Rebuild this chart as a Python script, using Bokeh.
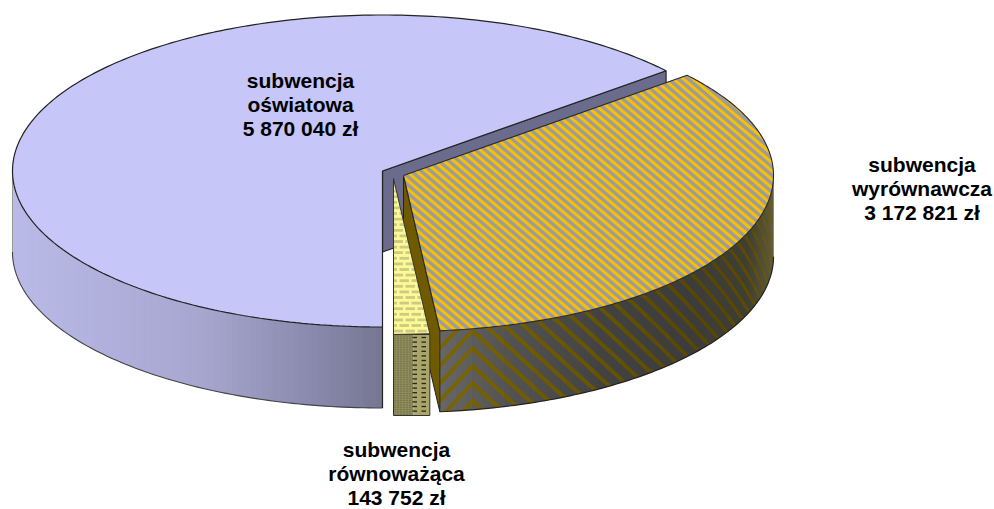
import numpy as np
from bokeh.plotting import figure
from bokeh.models import Range1d
from bokeh.core.properties import value
from bokeh.embed import file_html
from bokeh.resources import INLINE

categories = ["subwencja oświatowa", "subwencja wyrównawcza", "subwencja równoważąca"]
values = [5870040, 3172821, 143752]
label_lines = [["subwencja", "oświatowa", "5 870 040 zł"],
               ["subwencja", "wyrównawcza", "3 172 821 zł"],
               ["subwencja", "równoważąca", "143 752 zł"]]

W, H = 994, 509
RX, RY, DEPTH = 370.0, 156.0, 81.0
CENTERS = [(382.0, 170.5), (403.0, 175.0), (393.0, 178.0)]
LABEL_POS = [(300, 80), (921.5, 164), (396, 449)]
LINE_GAP = 24.0

p = figure(width=W, height=H, output_backend="svg", toolbar_location=None,
           x_range=Range1d(0, W), y_range=Range1d(H, 0),
           min_border=0, outline_line_color=None)
p.xaxis.visible = False
p.yaxis.visible = False
p.grid.visible = False
p.background_fill_color = "white"
p.border_fill_color = "white"

fr = np.array(values, float) / sum(values)
end0 = np.deg2rad(270.0)
start0 = end0 - fr[0] * 2 * np.pi
start1 = start0
end1 = start1 - fr[1] * 2 * np.pi
end2 = np.deg2rad(-90.0)


def rim(c, t, h=0.0):
    return c[0] + RX * np.cos(t), c[1] - RY * np.sin(t) + h


def wedge(c, a, b, n=240):
    t = np.linspace(a, b, n)
    x, y = rim(c, t)
    return np.r_[c[0], x], np.r_[c[1], y]


def clip_half(poly, nx, ny, d):
    out = []
    m = len(poly)
    for i in range(m):
        a, b = poly[i], poly[(i + 1) % m]
        fa = nx * a[0] + ny * a[1] - d
        fb = nx * b[0] + ny * b[1] - d
        if fa <= 0:
            out.append(a)
        if fa * fb < 0:
            s = fa / (fa - fb)
            out.append((a[0] + s * (b[0] - a[0]), a[1] + s * (b[1] - a[1])))
    return out


def interp_rgb(x, stops):
    xs = [s[0] for s in stops]
    return "#%02x%02x%02x" % tuple(int(round(np.interp(x, xs, [s[1][i] for s in stops]))) for i in range(3))


def fill(xs, ys, col):
    p.patches(xs, ys, fill_color=col, line_color=None)


def outline(x, y, col="#222222", lw=1.2):
    p.line(x, y, line_color=col, line_width=lw, line_join="round")


# ------------------------------------------------------ purple slice
c0 = CENTERS[0]
PURPLE_SIDE = [(12, (186, 186, 232)), (200, (166, 166, 207)), (300, (140, 140, 176)), (382, (117, 117, 145))]
ts = np.linspace(np.pi, end0, 91)
xs, ys, cols = [], [], []
for i in range(len(ts) - 1):
    a, b = ts[i], ts[min(i + 2, len(ts) - 1)]
    xa, ya = rim(c0, a)
    xb, yb = rim(c0, b)
    xs.append([xa, xb, xb, xa])
    ys.append([ya, yb, yb + DEPTH, ya + DEPTH])
    cols.append(interp_rgb(xa, PURPLE_SIDE))
fill(xs, ys, cols)
x_low, y_low = rim(c0, ts, DEPTH)
outline(x_low, y_low, "#444444", 1.1)
outline([c0[0] - RX] * 2, [c0[1], c0[1] + DEPTH], "#999999", 1.0)
outline([c0[0]] * 2, [c0[1] + RY, c0[1] + RY + DEPTH], "#222222", 1.2)

# cut face of the purple slice
fx, fy = rim(c0, start0)
p.patch([c0[0], fx, fx, c0[0], c0[0]], [c0[1], fy, fy + DEPTH, c0[1] + DEPTH, c0[1]],
        fill_color="#6b6b8e", line_color="#222222", line_width=1.2)

wx, wy = wedge(c0, start0, end0)
p.patch(np.r_[wx, wx[0]], np.r_[wy, wy[0]], fill_color="#c6c6f8", line_color="#222222", line_width=1.2)

# ------------------------------------------------------ yellow slice: side wall
c1 = CENTERS[1]
BASE_STOPS = [(439, (102, 102, 102)), (500, (84, 84, 84)), (600, (66, 66, 66)), (690, (60, 60, 60)), (745, (64, 62, 50)), (773, (95, 90, 58))]
STRIPE_STOPS = [(439, (122, 100, 0)), (600, (98, 82, 4)), (700, (84, 70, 4)), (745, (90, 76, 6)), (773, (108, 96, 28))]
ts = np.linspace(end1, 0.0, 101)
CHEV_T = -np.arccos(69.0 / RX)
PERIOD, STRIPE_W = 17.5, 5.5
xs, ys, cols = [], [], []
for i in range(len(ts) - 1):
    a, b = ts[i], ts[min(i + 2, len(ts) - 1)]
    xa, ya = rim(c1, a)
    xb, yb = rim(c1, b)
    xs.append([xa, xb, xb, xa])
    ys.append([ya, yb, yb + DEPTH, ya + DEPTH])
    cols.append(interp_rgb(xa, BASE_STOPS))
fill(xs, ys, cols)

sx, sy, scols = [], [], []
SEG = 6
for k in range(-30, 12):
    for i in range(0, len(ts) - 1, SEG):
        tt = ts[i:min(i + SEG + 2, len(ts))]
        if tt[0] < CHEV_T < tt[-1]:
            tt = np.sort(np.r_[tt, CHEV_T])
        u = np.abs(tt - CHEV_T) * RX
        hi = np.clip(k * PERIOD + u + 2.0 + STRIPE_W / 2, 0, DEPTH)
        lo = np.clip(k * PERIOD + u + 2.0 - STRIPE_W / 2, 0, DEPTH)
        if np.all(hi - lo <= 0):
            continue
        rx_, ry_ = rim(c1, tt)
        sx.append(np.r_[rx_, rx_[::-1]].tolist())
        sy.append(np.r_[ry_ + lo, (ry_ + hi)[::-1]].tolist())
        scols.append(interp_rgb(rx_[0], STRIPE_STOPS))
fill(sx, sy, scols)
x_low, y_low = rim(c1, ts, DEPTH)
outline(x_low, y_low, "#222222", 1.2)
outline([c1[0] + RX] * 2, [c1[1], c1[1] + DEPTH], "#888888", 1.0)

# cut face of the yellow slice
ex, ey = rim(c1, end1)
p.patch([c1[0], ex, ex, c1[0], c1[0]], [c1[1], ey, ey + DEPTH, c1[1] + DEPTH, c1[1]],
        fill_color="#6f5a00", line_color="#222222", line_width=1.0)

# yellow slice: top with diagonal stripes
wx, wy = wedge(c1, end1, start1)
p.patch(np.r_[wx, wx[0]], np.r_[wy, wy[0]], fill_color="#9c9c9c", line_color=None)
poly = list(zip(wx, wy))
SLOPE = 0.85
nrm = np.hypot(SLOPE, 1.0)
nx, ny = -SLOPE / nrm, 1.0 / nrm
pitch, band = 6.4, 3.0
xs, ys = [], []
for k in range(-130, 70):
    d = k * pitch
    piece = clip_half(poly, nx, ny, d + band)
    if len(piece) >= 3:
        piece = clip_half(piece, -nx, -ny, -d)
    if len(piece) >= 3:
        xs.append([q[0] for q in piece])
        ys.append([q[1] for q in piece])
fill(xs, ys, ["#f8c000"] * len(xs))
outline(np.r_[wx, wx[0]], np.r_[wy, wy[0]], "#2a2a2a", 1.1)

# ------------------------------------------------------ small slice
c2 = CENTERS[2]
tx, ty = rim(c2, end1)
bx, by = rim(c2, end2)
mid = bx + (tx - bx) * 0.55
p.patch([bx, mid, mid, bx], [by, by, by + DEPTH, by + DEPTH], fill_color="#8f8c5c", line_color=None)
p.patch([mid, tx, tx, mid], [by, by, by + DEPTH, by + DEPTH], fill_color="#a8a46a", line_color=None)
rows = np.arange(by + 3, by + DEPTH - 1, 4.6)
gx, gy = [], []
for r in rows:
    for x0, x1 in ((412.0, 416.5), (421.0, 425.5)):
        gx.append([x0, x1])
        gy.append([r, r])
p.multi_line(gx, gy, line_color="#26261a", line_width=1.3)
row2 = np.arange(by + 1.5, by + DEPTH, 2.3)
p.multi_line([[bx + 0.5, 412.0]] * len(row2), [[r, r] for r in row2], line_color="#6e6c48", line_width=0.8, line_dash="2 1")
p.patch([bx, tx, tx, bx, bx], [by, by, by + DEPTH, by + DEPTH, by], fill_color=None, line_color="#333333", line_width=1.0)

tri = [(c2[0], c2[1]), (tx, ty), (bx, by)]
p.patch([q[0] for q in tri], [q[1] for q in tri], fill_color="#fafa96", line_color=None)
xs, ys = [], []
for j, r in enumerate(np.arange(c2[1], by, 5.6)):
    off = 0.0 if j % 2 else 6.0
    for x0 in np.arange(c2[0] - 12 + off, tx, 12.0):
        piece = tri
        for a_, b_, d_ in ((-1, 0, -x0), (1, 0, x0 + 9.5), (0, -1, -r), (0, 1, r + 2.8)):
            if len(piece) >= 3:
                piece = clip_half(piece, a_, b_, d_)
        if len(piece) >= 3:
            xs.append([q[0] for q in piece])
            ys.append([q[1] for q in piece])
fill(xs, ys, ["#cfca80"] * len(xs))
p.patch([q[0] for q in tri] + [tri[0][0]], [q[1] for q in tri] + [tri[0][1]], fill_color=None, line_color="#333333", line_width=1.0)

# ------------------------------------------------------ labels
lx, ly, lt = [], [], []
for (x0, y0), lines in zip(LABEL_POS, label_lines):
    for i, s in enumerate(lines):
        lx.append(x0)
        ly.append(y0 + i * LINE_GAP)
        lt.append(s)
p.text(lx, ly, text=lt, text_font=value("Liberation Sans"), text_font_style="bold",
       text_font_size="21px", text_align="center", text_baseline="middle", text_color="#000000")

open("out.html", "w").write(file_html(p, INLINE))
